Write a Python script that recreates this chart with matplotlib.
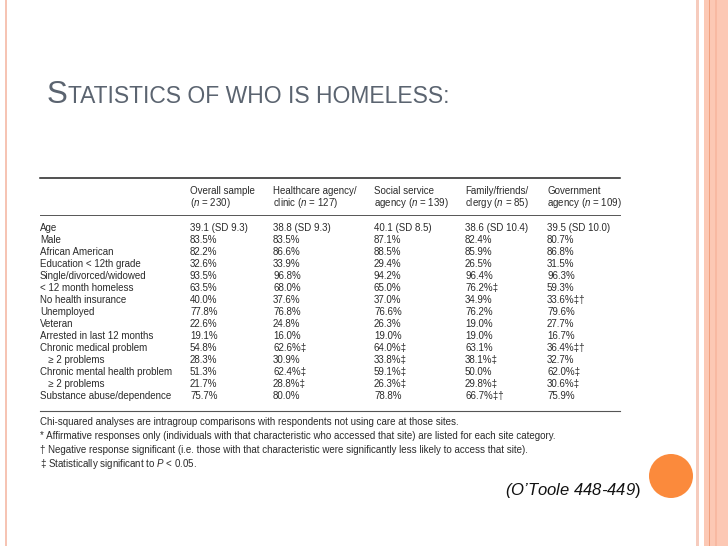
import matplotlib.pyplot as plt
from matplotlib.patches import Circle, Rectangle

plt.rcParams['font.family'] = ['Liberation Sans', 'DejaVu Sans']
plt.rcParams['mathtext.fontset'] = 'custom'
plt.rcParams['mathtext.it'] = 'Liberation Sans:italic'
plt.rcParams['mathtext.rm'] = 'Liberation Sans'

title_big = ['S']
title_small = ['TATISTICS OF WHO IS HOMELESS:']

col_headers = [
    ('Overall sample', '($\\it{n}$ = 230)'),
    ('Healthcare agency/', 'clinic ($\\it{n}$ = 127)'),
    ('Social service', 'agency ($\\it{n}$ = 139)'),
    ('Family/friends/', 'clergy ($\\it{n}$ = 85)'),
    ('Government', 'agency ($\\it{n}$ = 109)'),
]

row_labels = ['Age', 'Male', 'African American', 'Education < 12th grade',
              'Single/divorced/widowed', '< 12 month homeless', 'No health insurance',
              'Unemployed', 'Veteran', 'Arrested in last 12 months',
              'Chronic medical problem', '   \u2265 2 problems',
              'Chronic mental health problem', '   \u2265 2 problems',
              'Substance abuse/dependence']

overall = ['39.1 (SD 9.3)', '83.5%', '82.2%', '32.6%', '93.5%', '63.5%', '40.0%',
           '77.8%', '22.6%', '19.1%', '54.8%', '28.3%', '51.3%', '21.7%', '75.7%']
healthcare = ['38.8 (SD 9.3)', '83.5%', '86.6%', '33.9%', '96.8%', '68.0%', '37.6%',
              '76.8%', '24.8%', '16.0%', '62.6%\u2021', '30.9%', '62.4%\u2021',
              '28.8%\u2021', '80.0%']
social = ['40.1 (SD 8.5)', '87.1%', '88.5%', '29.4%', '94.2%', '65.0%', '37.0%',
          '76.6%', '26.3%', '19.0%', '64.0%\u2021', '33.8%\u2021', '59.1%\u2021',
          '26.3%\u2021', '78.8%']
family = ['38.6 (SD 10.4)', '82.4%', '85.9%', '26.5%', '96.4%', '76.2%\u2021', '34.9%',
          '76.2%', '19.0%', '19.0%', '63.1%', '38.1%\u2021', '50.0%', '29.8%\u2021',
          '66.7%\u2021\u2020']
government = ['39.5 (SD 10.0)', '80.7%', '86.8%', '31.5%', '96.3%', '59.3%',
              '33.6%\u2021\u2020', '79.6%', '27.7%', '16.7%', '36.4%\u2021\u2020',
              '32.7%', '62.0%\u2021', '30.6%\u2021', '75.9%']

footnotes = [
    'Chi-squared analyses are intragroup comparisons with respondents not using care at those sites.',
    '* Affirmative responses only (individuals with that characteristic who accessed that site) are listed for each site category.',
    '\u2020 Negative response significant (i.e. those with that characteristic were significantly less likely to access that site).',
    '\u2021 Statistically significant to $\\it{P}$ < 0.05.',
]

citation = '(O\u2019Toole 448-449'

fig = plt.figure(figsize=(7.28, 5.46), dpi=100)
ax = fig.add_axes([0, 0, 1, 1])
ax.set_xlim(0, 728)
ax.set_ylim(546, 0)
ax.axis('off')

# slide decoration
ax.add_patch(Rectangle((4.5, 0), 2.5, 546, color='#f6c4b4', lw=0))
ax.add_patch(Rectangle((696, 0), 2.5, 546, color='#f6cbbd', lw=0))
ax.add_patch(Rectangle((704, 0), 24, 546, color='#fcc8b4', lw=0))
ax.add_patch(Rectangle((709, 0), 1.2, 546, color='#f0a07e', lw=0))
ax.add_patch(Rectangle((715, 0), 2, 546, color='#f8b9a2', lw=0))

# title in small caps
title_color = '#5b6470'
t = ax.text(47, 103, title_big[0], fontsize=22.5, color=title_color,
            va='baseline', ha='left')
fig.canvas.draw()
bb = t.get_window_extent()
x_next = 47 + bb.width
ax.text(x_next, 103, title_small[0], fontsize=16.5, color=title_color,
        va='baseline', ha='left')

# table
txt = '#2b2b2b'
fs = 7.0
col_x = [190, 273, 374, 465, 547]
ax.plot([40, 620], [178, 178], color='#222222', lw=1.1)
ax.plot([40, 620], [215, 215], color='#555555', lw=0.7)
ax.plot([40, 620], [411, 411], color='#555555', lw=0.8)

for x, (h1, h2) in zip(col_x, col_headers):
    ax.text(x, 191, h1, fontsize=fs, color=txt, va='center', ha='left')
    ax.text(x, 203, h2, fontsize=fs, color=txt, va='center', ha='left')

row_y0 = 228
row_dy = 12.0
columns = [overall, healthcare, social, family, government]
for i, lab in enumerate(row_labels):
    y = row_y0 + i * row_dy
    ax.text(40, y, lab, fontsize=fs, color=txt, va='center', ha='left')
    for x, col in zip(col_x, columns):
        ax.text(x, y, col[i], fontsize=fs, color=txt, va='center', ha='left')

for i, note in enumerate(footnotes):
    ax.text(40, 422 + i * 14, note, fontsize=fs, color=txt, va='center', ha='left')

# citation
ax.text(641, 490, citation + '$\\mathrm{)}$', fontsize=12, color='#111111',
        style='italic', va='center', ha='right')

ax.add_patch(Circle((671, 476), 22, color='#fb8a3c', lw=0))

plt.savefig('out.png', dpi=100)
